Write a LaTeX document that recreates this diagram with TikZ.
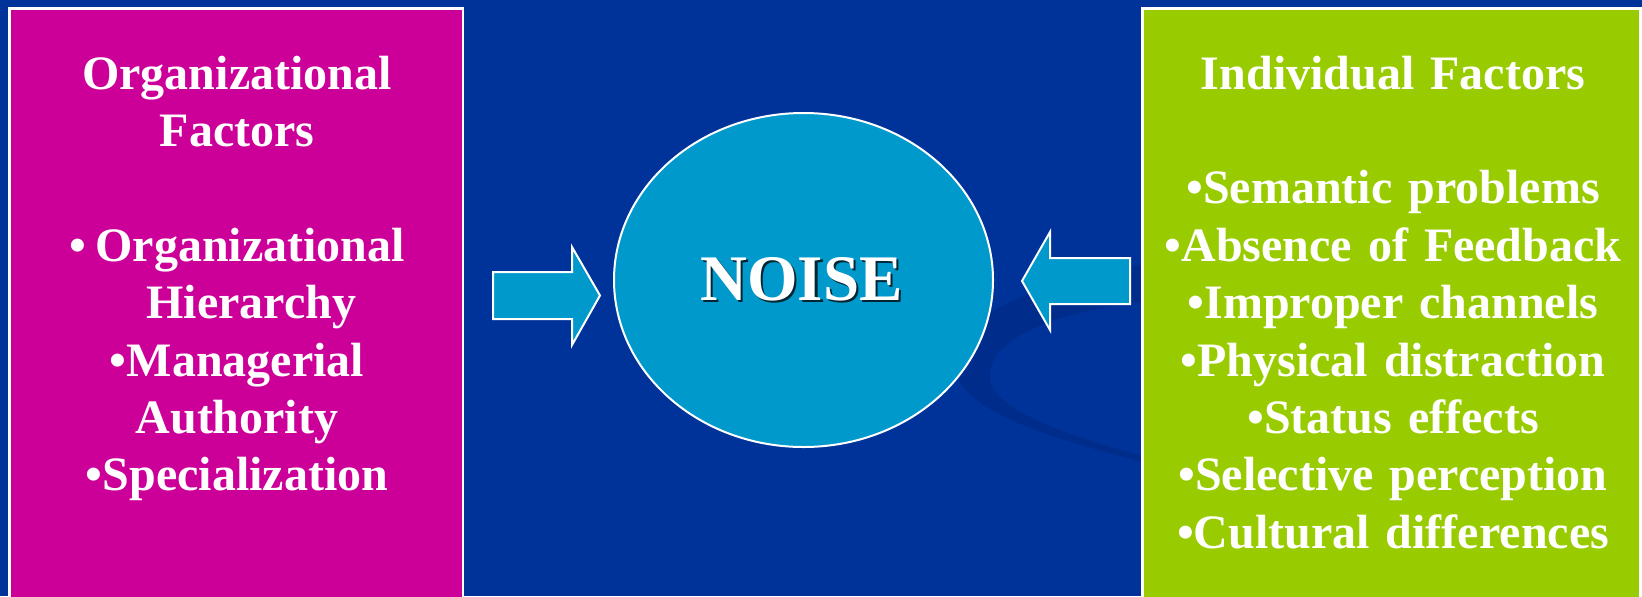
\documentclass[tikz,border=0pt]{standalone}
\usepackage{fontspec}
\setmainfont{Liberation Serif}
\usetikzlibrary{shapes.geometric}
\definecolor{bgblue}{HTML}{003399}
\definecolor{swoosh}{HTML}{002D8C}
\definecolor{orgmagenta}{HTML}{CC0099}
\definecolor{indgreen}{HTML}{99CC00}
\definecolor{noisecyan}{HTML}{0099CC}
\begin{document}
\begin{tikzpicture}[x=0.5pt, y=-0.5pt, line join=miter,
	factorbox/.style={draw=white, line width=1.35pt},
	factortxt/.style={text=white, text width=215pt, align=center, anchor=base, inner sep=0pt,
		font=\bfseries\fontsize{24pt}{28.7pt}\selectfont},
	noisebub/.style={ellipse, draw=white, line width=1pt, fill=noisecyan,
		minimum width=189.5pt, minimum height=167pt, inner sep=0pt},
	noisetxt/.style={anchor=base, inner sep=0pt, font=\bfseries\fontsize{32.5pt}{36pt}\selectfont},
	blockarrow/.style={draw=white, line width=1pt, fill=noisecyan}]
	\useasboundingbox (0,0) rectangle (1642,596);
	\clip (0,0) rectangle (1642,596);
	\fill[bgblue] (0,0) rectangle (1642,596);
	% background swoosh
	\fill[swoosh] (1142,265) .. controls (1030,283) and (945,320) .. (955,370)
		.. controls (965,415) and (1060,440) .. (1142,462)
		-- (1142,456) .. controls (1070,435) and (985,410) .. (990,372)
		.. controls (995,335) and (1060,312) .. (1142,302) -- cycle;
	% the two factor boxes
	\draw[factorbox, fill=orgmagenta] (9.5,8.5) rectangle (463,620);
	\draw[factorbox, fill=indgreen] (1142.5,8.5) rectangle (1640.5,620);
	\node[factortxt] (orgtxt) at (237,89) {Organizational\\Factors\\~\\%
		•\hspace{0.2em}Organizational\\\hspace{0.6em}Hierarchy\\•Managerial\\Authority\\•Specialization};
	\node[factortxt, text width=240pt] (indtxt) at (1393,89) {Individual Factors\\~\\%
		•Semantic problems\\•Absence of Feedback\\•Improper channels\\%
		•Physical distraction\\•Status effects\\•Selective perception\\%
		•Cultural differences};
	% noise
	\node[noisebub] (noise) at (803.5,280) {};
	\node[noisetxt, text=black, opacity=.75] (noiseshadow) at ([xshift=0.3pt, yshift=-11.3pt]noise) {NOISE};
	\node[noisetxt, text=white] (noisetext) at ([xshift=-1pt, yshift=-10pt]noise) {NOISE};
	% block arrows
	\coordinate (ltip) at (600,295.5);
	\coordinate (rtip) at (1022,281);
	\draw[blockarrow] (ltip) -- ++(-28,-48.5) -- ++(0,25) -- ++(-79,0) -- ++(0,47)
		-- ++(79,0) -- ++(0,26) -- cycle;
	\draw[blockarrow] (rtip) -- ++(28,-49) -- ++(0,26) -- ++(80,0) -- ++(0,46)
		-- ++(-80,0) -- ++(0,26) -- cycle;
\end{tikzpicture}
\end{document}
